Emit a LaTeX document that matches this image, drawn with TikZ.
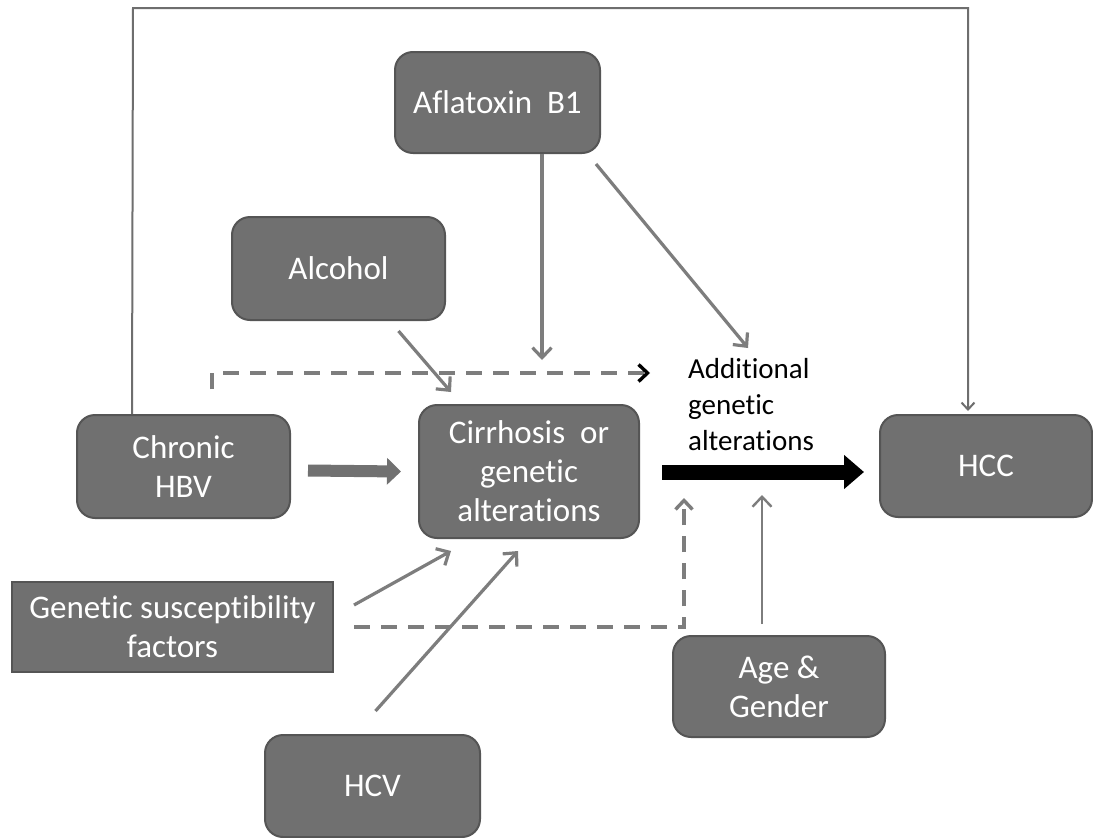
\documentclass[tikz,border=0pt]{standalone}
\usepackage{fontspec}
\setmainfont{Carlito}[Ligatures={NoCommon}]
\usetikzlibrary{arrows.meta,calc}
\definecolor{boxfill}{RGB}{112,112,112}
\definecolor{boxline}{RGB}{85,85,85}
\definecolor{arr}{RGB}{125,125,125}
\definecolor{framec}{RGB}{110,110,110}
\begin{document}
\begin{tikzpicture}[x=1pt,y=-1pt,
  box/.style={draw=boxline, line width=2pt, fill=boxfill, rounded corners=18pt,
    text=white, font=\fontsize{33}{39}\selectfont, align=center, inner sep=0pt},
  sqbox/.style={box, rounded corners=0pt},
  garrow/.style={draw=arr, line width=3.2pt, -{Straight Barb[length=10pt,width=19pt]}},
  framel/.style={draw=framec, line width=2pt, -{Straight Barb[length=7pt,width=13pt]}},
  dashl/.style={draw=arr, line width=3.4pt, dash pattern=on 16pt off 11pt},
  blockarr/.style={draw=arr!90!black, line width=12pt, -{Triangle[length=14pt,width=26pt]}},
  blackarr/.style={draw=black, line width=15pt, -{Triangle[length=20pt,width=33pt]}},
  addtext/.style={text=black, font=\fontsize{29}{36}\selectfont, align=left, inner sep=0pt}
]
\useasboundingbox (0,0) rectangle (1093,838);
\fill[white] (0,0) rectangle (1093,838);

% nodes
\node[box, minimum width=205pt, minimum height=101pt] (afla) at (497.5,102.5) {Aflatoxin\ \ B1};
\node[box, minimum width=213pt, minimum height=103pt] (alc) at (338.5,268.5) {Alcohol};
\node[box, minimum width=213pt, minimum height=103pt] (hbv) at (183.5,466.5) {Chronic\\HBV};
\node[box, minimum width=220pt, minimum height=133pt] (cirr) at (529,471.5) {Cirrhosis\ \ or\\genetic\\alterations};
\node[box, minimum width=212pt, minimum height=102pt] (hcc) at (986,466) {HCC};
\node[sqbox, minimum width=321pt, minimum height=90pt] (gen) at (172.5,627) {Genetic susceptibility\\factors};
\node[box, minimum width=212pt, minimum height=101pt] (age) at (779,686.5) {Age \&\\Gender};
\node[box, minimum width=215pt, minimum height=102pt] (hcv) at (372.5,786) {HCV};
\node[addtext, anchor=north west] (add) at (688,358) {Additional\\genetic\\alterations};

% free ends
\coordinate (topL) at (133,8);
\coordinate (topR) at (968,8);
\coordinate (vtip) at (542,360);
\coordinate (addtop) at (748,348);
\coordinate (dstart) at (212,389);
\coordinate (dcorner) at (212,373);
\coordinate (dend) at (650,373);
\coordinate (d2tip) at (684,498);
\coordinate (agetip) at (762,495);

% frame connector from Chronic HBV to HCC
\draw[framel] ($(hbv.north west)+(56,0)$) -- (topL) -- (topR) -- ($(hcc.north)+(-18,-3)$);

% aflatoxin arrows
\draw[garrow] ($(afla.south)+(44.5,0)$) -- (vtip);
\draw[garrow] ($(afla.south east)+(-5,10)$) -- (addtop);

% alcohol
\draw[garrow] ($(alc.south)+(60,10)$) -- ($(cirr.north west)+(33,-12)$);

% dashed top
\draw[dashl, -{Straight Barb[length=9pt,width=17pt,color=black]}] (dstart) -- (dcorner) -- (dend);

% HBV block arrow
\draw[blockarr] ($(hbv.east)+(17,4)$) -- ($(cirr.west)+(-17,0)$);

% black arrow to HCC
\draw[blackarr] ($(cirr.east)+(22,0.5)$) -- ($(hcc.west)+(-15,6)$);

% genetic susceptibility
\draw[garrow] ($(gen.east)+(20,-22)$) -- ($(cirr.south west)+(33,12)$);
\draw[dashl, -{Straight Barb[length=9pt,width=17pt]}] ($(gen.east)+(20,0)$) -| (d2tip);

% HCV
\draw[garrow] ($(hcv.north)+(3,-23)$) -- ($(cirr.south)+(-11,12)$);

% age & gender
\draw[garrow, line width=2.4pt] ($(age.north)+(-17,-11)$) -- (agetip);
\end{tikzpicture}
\end{document}
